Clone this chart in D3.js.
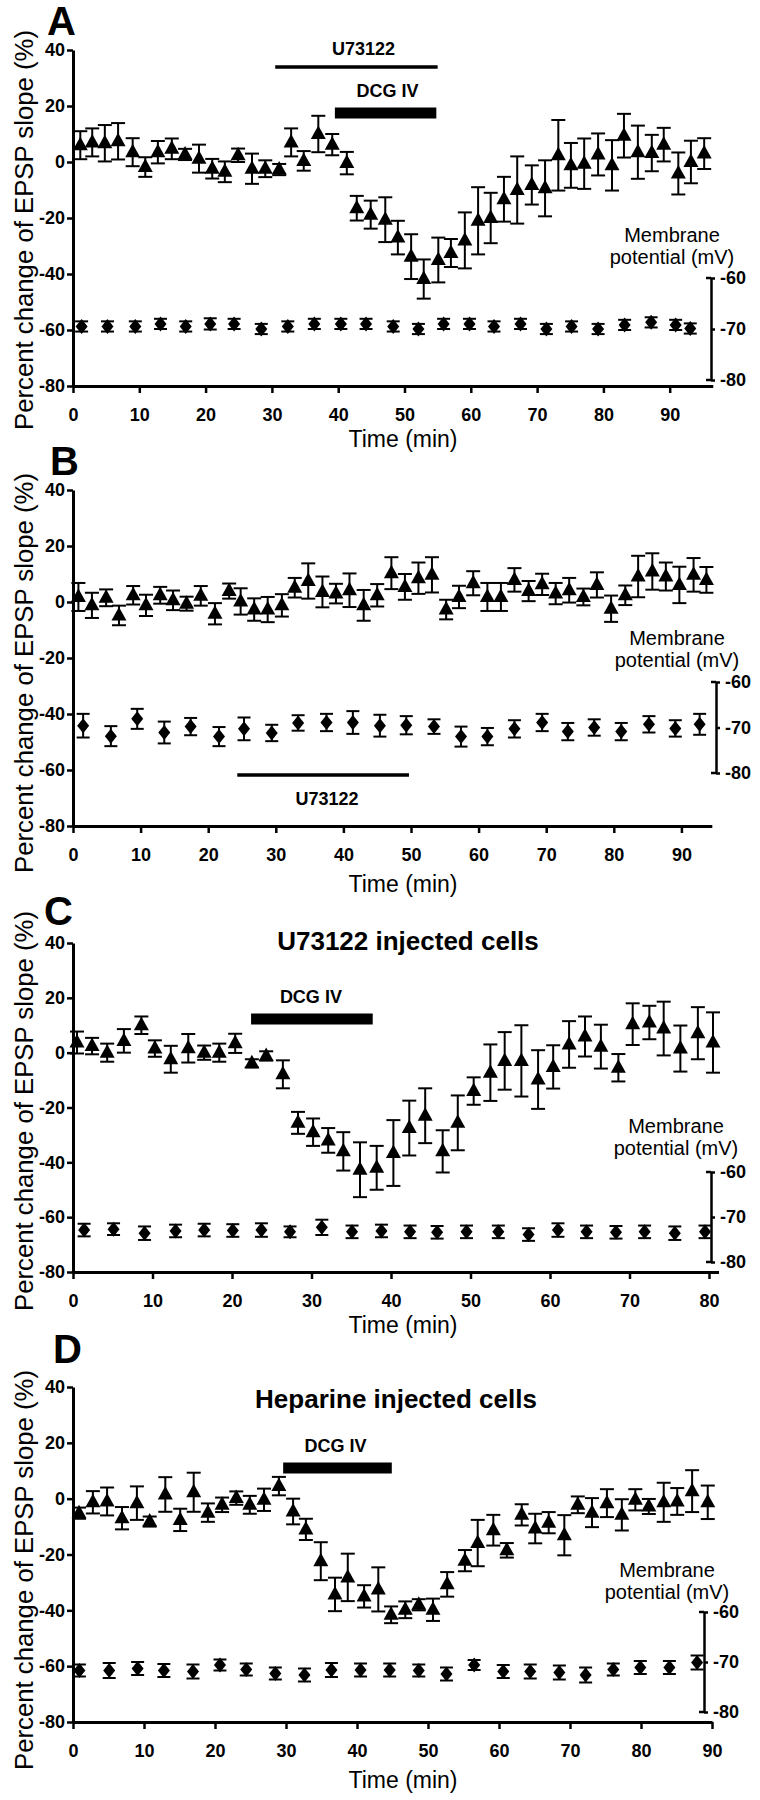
<!DOCTYPE html>
<html><head><meta charset="utf-8">
<script src="https://cdn.jsdelivr.net/npm/d3@7"></script>
<style>
body{margin:0;background:#fff;}
svg{display:block;}
</style></head><body>
<svg id="chart" width="760" height="1800"></svg>
<script>
// ---------- shared tick labels ----------
const yTicks = [40, 20, 0, -20, -40, -60, -80];
const rTicks = [-60, -70, -80];
const xTicks90 = [0, 10, 20, 30, 40, 50, 60, 70, 80, 90];
const xTicks80 = [0, 10, 20, 30, 40, 50, 60, 70, 80];

// ---------- Panel A ----------
const aTime = [1.1,2.9,4.8,6.8,9.0,10.9,12.8,14.9,16.9,19.0,21.0,22.9,24.9,27.0,29.0,31.1,32.9,34.8,37.0,39.1,41.3,42.8,44.9,47.1,49.0,51.0,52.9,55.1,57.0,59.1,61.1,63.0,65.0,67.0,69.2,71.2,73.2,75.1,77.1,79.2,81.3,83.1,85.2,87.3,89.1,91.3,93.2,95.2];
const aEpsp = [6,7,6.7,7.4,3.5,-1.8,3.5,4.7,2.7,1.2,-2.4,-3.5,2.4,-2.4,-2.4,-2.7,7,0.4,10,6.2,-0.4,-16.5,-18.8,-20.6,-27,-33.8,-41.8,-35,-32.5,-28,-21,-20,-13.3,-10,-8.2,-9.4,2.4,-1.2,-0.6,2.7,-1.2,9.4,3.5,3.2,6.2,-4.1,0,3];
const aEpspErr = [5,5,6.5,6.5,5,3.5,4,3.7,2,5,3.5,3.7,2.4,5.4,3,2,5,3.5,6.5,3.8,4,4.4,5,8,6,8,7,8,5,10,12,9,8,12,7,10,12.6,8,9,7.5,9,7.8,9.5,6.5,6,7.5,7.6,5.5];
const aVmTime = [1.3,5.2,9.4,13.2,17.0,20.7,24.3,28.4,32.4,36.4,40.4,44.2,48.3,52.1,55.9,59.8,63.5,67.5,71.4,75.2,79.2,83.2,87.2,90.9,93.1];
const aVm = [-69.5,-69.5,-69.5,-69.0,-69.5,-69.0,-69.0,-70.0,-69.5,-69.0,-69.0,-69.0,-69.5,-70.0,-69.0,-69.0,-69.5,-69.0,-70.0,-69.5,-70.0,-69.2,-68.7,-69.2,-69.9];
const aVmErr = [1.0,1.0,1.0,1.0,1.0,1.1,1.0,1.0,1.0,1.0,1.0,1.0,1.0,1.0,1.0,1.0,1.0,1.0,1.0,1.0,1.0,1.0,1.0,1.0,1.0];
const aU73122 = [30.5, 55];
const aDCG = [39.5, 54.8];

// ---------- Panel B ----------
const bTime = [0.8,2.8,4.9,6.8,8.9,10.8,12.9,14.8,16.8,18.9,21.0,23.1,24.8,26.8,28.8,30.9,32.8,34.8,36.9,38.9,40.9,43.0,45.0,47.1,49.1,51.1,53.1,55.2,57.1,59.2,61.3,63.3,65.3,67.4,69.4,71.4,73.4,75.5,77.5,79.6,81.7,83.6,85.7,87.7,89.7,91.8,93.7];
const bEpsp = [1.8,-1.2,1.5,-4.8,2.4,-1.2,2.4,0.6,-0.6,2.2,-4.2,3.9,0.2,-2.7,-2.7,-1.2,5.1,7.5,3.6,3.0,4.2,-1.2,2.4,10.3,5.4,8.5,9.7,-2.7,1.8,6.7,1.8,1.8,7.9,3.9,6.3,3.0,4.2,1.8,6.1,-2.4,2.4,9.1,10.9,9.1,6.1,9.7,7.9];
const bEpspErr = [5,4.5,3,3.5,3.3,3.8,3,3.5,2.5,3.5,3.8,2.7,4.7,4,4.5,4,3.5,6.3,5.5,3.5,6,5.5,4,5.7,4.6,5.6,6.3,3.5,4,4.3,5,5,4.2,3.6,3.8,3.8,4.4,3,4.5,4.7,3.5,7.4,6.5,5,6.5,6,4.6];
const bVmTime = [1.5,5.6,9.5,13.5,17.4,21.6,25.3,29.4,33.3,37.5,41.4,45.4,49.3,53.4,57.4,61.3,65.3,69.4,73.2,77.1,81.1,85.2,89.1,92.7];
const bVm = [-69.6,-71.9,-68.1,-71.1,-69.8,-72.0,-70.3,-71.2,-69.0,-68.9,-68.9,-69.6,-69.5,-69.8,-72.0,-72.0,-70.3,-68.9,-70.9,-70.0,-70.9,-69.3,-70.2,-69.3];
const bVmErr = [2.6,2.2,2.2,2.4,1.9,2.1,2.5,1.8,1.7,1.9,2.5,2.4,2.0,1.6,2.2,1.9,1.9,1.9,1.9,1.8,1.9,1.8,1.8,2.3];
const bU73122 = [24.3, 49.7];

// ---------- Panel C ----------
const cTime = [0.5,2.4,4.3,6.4,8.6,10.3,12.3,14.5,16.5,18.4,20.4,22.5,24.3,26.4,28.3,30.2,32.1,34.0,36.1,38.2,40.3,42.3,44.3,46.5,48.4,50.4,52.5,54.3,56.4,58.5,60.4,62.4,64.4,66.4,68.6,70.4,72.5,74.3,76.4,78.6,80.5];
const cEpsp = [3.7,2.4,0,4.3,10,1.5,-2.4,1.6,0,0,3.4,-3.9,-1.2,-7.9,-25.6,-29,-32,-36,-42.7,-42,-36.6,-27.5,-23,-36,-25.6,-14,-7.3,-3,-3,-9.8,-5.2,3,5.9,2.2,-5.5,10.4,11,8.8,1.5,7.1,3.7];
const cEpspErr = [4,3,3.3,4.3,3.2,3,4.9,5.2,2.6,3.3,3.5,1.5,1.7,5.1,4,5,4.5,7,10,8,12,10,10,7.7,10,5,10.3,10.5,13,10.7,7.9,8.5,7.3,8,5,7.6,6.1,9.8,8.4,9.5,11];
const cVmTime = [1.4,5.1,9.0,12.9,16.5,20.1,23.7,27.3,31.3,35.1,38.8,42.4,45.8,49.5,53.5,57.3,61.0,64.6,68.3,71.9,75.7,79.5];
const cVm = [-72.9,-72.7,-73.6,-73.1,-72.9,-73.0,-72.9,-73.3,-72.3,-73.3,-73.1,-73.3,-73.4,-73.3,-73.3,-73.9,-72.9,-73.3,-73.4,-73.3,-73.6,-73.3];
const cVmErr = [1.4,1.3,1.5,1.4,1.4,1.4,1.5,1.2,1.7,1.4,1.4,1.4,1.4,1.4,1.4,1.4,1.5,1.4,1.4,1.4,1.5,1.4];
const cDCG = [22.4, 37.7];

// ---------- Panel D ----------
const dTime = [0.85,2.8,4.8,6.9,9.0,10.8,13.0,15.1,17.0,19.0,21.0,23.0,24.9,26.9,29.0,31.0,32.8,34.9,36.9,38.7,41.0,43.0,44.8,46.8,48.7,50.7,52.7,55.2,57.0,59.2,61.1,63.2,65.1,67.0,69.2,71.1,73.1,75.2,77.3,79.2,81.1,83.2,85.1,87.2,89.4];
const dEpsp = [-5.2,-1.3,-1,-7,-1.6,-8.2,1.5,-7.6,2.3,-5,-2.2,0.2,-2.2,-0.4,4.5,-4.6,-11,-22.4,-34.3,-28.2,-35,-32.5,-41.6,-39.8,-38,-39.8,-30.7,-22.2,-15.9,-11.3,-18.5,-5.8,-10.7,-8.6,-13.1,-2.2,-5,-1.6,-5.8,-0.4,-2.8,-1.3,-1,2.7,-1.3];
const dEpspErr = [2,4,5,4,6,1.8,6.2,4,7,3.3,2.6,2.4,3.2,4,3.3,4.6,3.8,6.8,6,8.5,4,7.9,3,3,2,4,4.4,3.8,8.3,5.5,2.6,3.8,5.3,3.8,7.2,3,5.2,5,5.6,3.8,2.7,7,4.8,7.5,6];
const dVmTime = [0.9,5.1,9.1,12.8,16.9,20.7,24.4,28.5,32.6,36.4,40.5,44.6,48.7,52.6,56.5,60.6,64.4,68.5,72.2,76.1,79.9,84.0,87.9];
const dVm = [-71.7,-71.7,-71.3,-71.7,-71.9,-70.6,-71.5,-72.3,-72.6,-71.6,-71.6,-71.6,-71.7,-72.4,-70.6,-71.9,-71.9,-72.1,-72.6,-71.5,-71.1,-71.1,-70.1];
const dVmErr = [1.2,1.5,1.3,1.3,1.4,1.1,1.2,1.2,1.3,1.4,1.3,1.3,1.2,1.3,1.0,1.3,1.4,1.4,1.5,1.2,1.3,1.3,1.4];
const dDCG = [29.6, 44.9];

// ---------- layout ----------
const FONT = "'Liberation Sans', Arial, Helvetica, sans-serif";
const svg = d3.select("#chart");

const panels = [
  {letter:"A", lx:47, ly:35, top:50, bottom:386, left:73, xMax:96.5, pxPerMin:6.63, xTicks:xTicks90,
   rX:711, rRange:[380,278], memX:672, memY:[242,264], ylabY:230, timeY:447,
   t:aTime, v:aEpsp, e:aEpspErr, vt:aVmTime, vm:aVm, ve:aVmErr,
   bars:[{span:aU73122, y:67, h:3.5, label:"U73122", ty:55, dx:7},
         {span:aDCG, y:113, h:11, label:"DCG IV", ty:97, dx:2}]},
  {letter:"B", lx:50, ly:475, top:490, bottom:826, left:73, xMax:94.5, pxPerMin:6.76, xTicks:xTicks90,
   rX:716, rRange:[773,682], memX:677, memY:[645,667], ylabY:673, timeY:892,
   t:bTime, v:bEpsp, e:bEpspErr, vt:bVmTime, vm:bVm, ve:bVmErr,
   bars:[{span:bU73122, y:775, h:3.5, label:"U73122", ty:805, dx:4}]},
  {letter:"C", lx:44, ly:925, top:943, bottom:1272, left:73, xMax:81.2, pxPerMin:7.95, xTicks:xTicks80,
   rX:711, rRange:[1262,1172], memX:676, memY:[1133,1155], ylabY:1111, timeY:1333,
   title:"U73122 injected cells", titleX:408, titleY:950,
   t:cTime, v:cEpsp, e:cEpspErr, vt:cVmTime, vm:cVm, ve:cVmErr,
   bars:[{span:cDCG, y:1019, h:11, label:"DCG IV", ty:1003, dx:-1}]},
  {letter:"D", lx:53, ly:1363, top:1387, bottom:1722, left:73, xMax:90, pxPerMin:7.1, xTicks:xTicks90,
   rX:704, rRange:[1712,1612], memX:667, memY:[1577,1599], ylabY:1570, timeY:1788,
   title:"Heparine injected cells", titleX:396, titleY:1408,
   t:dTime, v:dEpsp, e:dEpspErr, vt:dVmTime, vm:dVm, ve:dVmErr,
   bars:[{span:dDCG, y:1468, h:11, label:"DCG IV", ty:1452, dx:-2}]}
];

function styleAxis(g, size) {
  g.attr("font-family", null).attr("font-size", null);
  g.select(".domain").attr("stroke", "#000").attr("stroke-width", 3);
  g.selectAll(".tick line").attr("stroke", "#000").attr("stroke-width", 2.5);
  g.selectAll(".tick text").style("font-family", FONT).style("font-weight", "bold")
    .style("font-size", size + "px").attr("fill", "#000");
}

function triPath(cx, cy) {
  return `M${cx},${cy-8.5}L${cx+7.5},${cy+5}L${cx-7.5},${cy+5}Z`;
}
function diaPath(cx, cy) {
  return `M${cx},${cy-7.5}L${cx+6},${cy}L${cx},${cy+7.5}L${cx-6},${cy}Z`;
}

function errorBars(g, xs, yLo, yHi, cap) {
  const eb = g.append("g").attr("stroke", "#000").attr("stroke-width", 2);
  xs.forEach((cx, i) => {
    eb.append("line").attr("x1", cx).attr("x2", cx).attr("y1", yLo[i]).attr("y2", yHi[i]);
    eb.append("line").attr("x1", cx - cap).attr("x2", cx + cap).attr("y1", yLo[i]).attr("y2", yLo[i]);
    eb.append("line").attr("x1", cx - cap).attr("x2", cx + cap).attr("y1", yHi[i]).attr("y2", yHi[i]);
  });
}

panels.forEach(p => {
  const g = svg.append("g");
  const x = d3.scaleLinear().domain([0, p.xMax]).range([p.left, p.left + p.xMax * p.pxPerMin]);
  const y = d3.scaleLinear().domain([-80, 40]).range([p.bottom, p.top]);
  const yR = d3.scaleLinear().domain([-80, -60]).range(p.rRange);

  // panel letter
  g.append("text").attr("x", p.lx).attr("y", p.ly).text(p.letter)
    .style("font-family", FONT).style("font-weight", "bold").style("font-size", "40px");

  // left axis
  const ya = g.append("g").attr("transform", `translate(${p.left},0)`)
    .call(d3.axisLeft(y).tickValues(yTicks).tickSize(6).tickSizeOuter(0).tickPadding(2).tickFormat(d => String(d)));
  styleAxis(ya, 18);

  // x axis
  const xa = g.append("g").attr("transform", `translate(0,${p.bottom})`)
    .call(d3.axisBottom(x).tickValues(p.xTicks).tickSize(7).tickSizeOuter(0).tickPadding(15).tickFormat(d => String(d)));
  styleAxis(xa, 18);

  // right membrane-potential axis
  const ra = g.append("g").attr("transform", `translate(${p.rX},0)`)
    .call(d3.axisRight(yR).tickValues(rTicks).tickSize(4).tickSizeOuter(0).tickPadding(5).tickFormat(d => String(d)));
  styleAxis(ra, 18);
  ra.select(".domain").attr("stroke-width", 2.5);
  [-60, -80].forEach(v => {
    ra.append("line").attr("x1", -5).attr("x2", 0).attr("y1", yR(v)).attr("y2", yR(v))
      .attr("stroke", "#000").attr("stroke-width", 2.5);
  });

  // axis titles
  g.append("text").attr("transform", `translate(33,${p.ylabY}) rotate(-90)`)
    .attr("text-anchor", "middle").attr("textLength", 400).attr("lengthAdjust", "spacingAndGlyphs")
    .style("font-family", FONT).style("font-size", "25px").text("Percent change of EPSP slope (%)");
  g.append("text").attr("x", 403).attr("y", p.timeY).attr("text-anchor", "middle")
    .style("font-family", FONT).style("font-size", "23px").text("Time (min)");

  // membrane label
  g.append("text").attr("x", p.memX).attr("y", p.memY[0]).attr("text-anchor", "middle")
    .style("font-family", FONT).style("font-size", "20px").text("Membrane");
  g.append("text").attr("x", p.memX).attr("y", p.memY[1]).attr("text-anchor", "middle")
    .style("font-family", FONT).style("font-size", "20px").text("potential (mV)");

  // title
  if (p.title) {
    g.append("text").attr("x", p.titleX).attr("y", p.titleY).attr("text-anchor", "middle")
      .style("font-family", FONT).style("font-weight", "bold").style("font-size", "26px").text(p.title);
  }

  // drug application bars
  p.bars.forEach(b => {
    g.append("rect").attr("x", x(b.span[0])).attr("width", x(b.span[1]) - x(b.span[0]))
      .attr("y", b.y - b.h / 2).attr("height", b.h).attr("fill", "#000");
    g.append("text").attr("x", (x(b.span[0]) + x(b.span[1])) / 2 + b.dx).attr("y", b.ty)
      .attr("text-anchor", "middle").style("font-family", FONT).style("font-weight", "bold")
      .style("font-size", "18px").text(b.label);
  });

  // membrane potential: error bars + diamonds
  const vx = p.vt.map(t => x(t));
  errorBars(g, vx, p.vm.map((v, i) => yR(v - p.ve[i])), p.vm.map((v, i) => yR(v + p.ve[i])), 6.5);
  g.append("g").selectAll("path").data(p.vm).join("path")
    .attr("d", (v, i) => diaPath(vx[i], yR(v))).attr("fill", "#000");

  // EPSP: error bars + triangles
  const tx = p.t.map(t => x(t));
  errorBars(g, tx, p.v.map((v, i) => y(v - p.e[i])), p.v.map((v, i) => y(v + p.e[i])), 7);
  g.append("g").selectAll("path").data(p.v).join("path")
    .attr("d", (v, i) => triPath(tx[i], y(v))).attr("fill", "#000");
});
</script>
</body></html>
